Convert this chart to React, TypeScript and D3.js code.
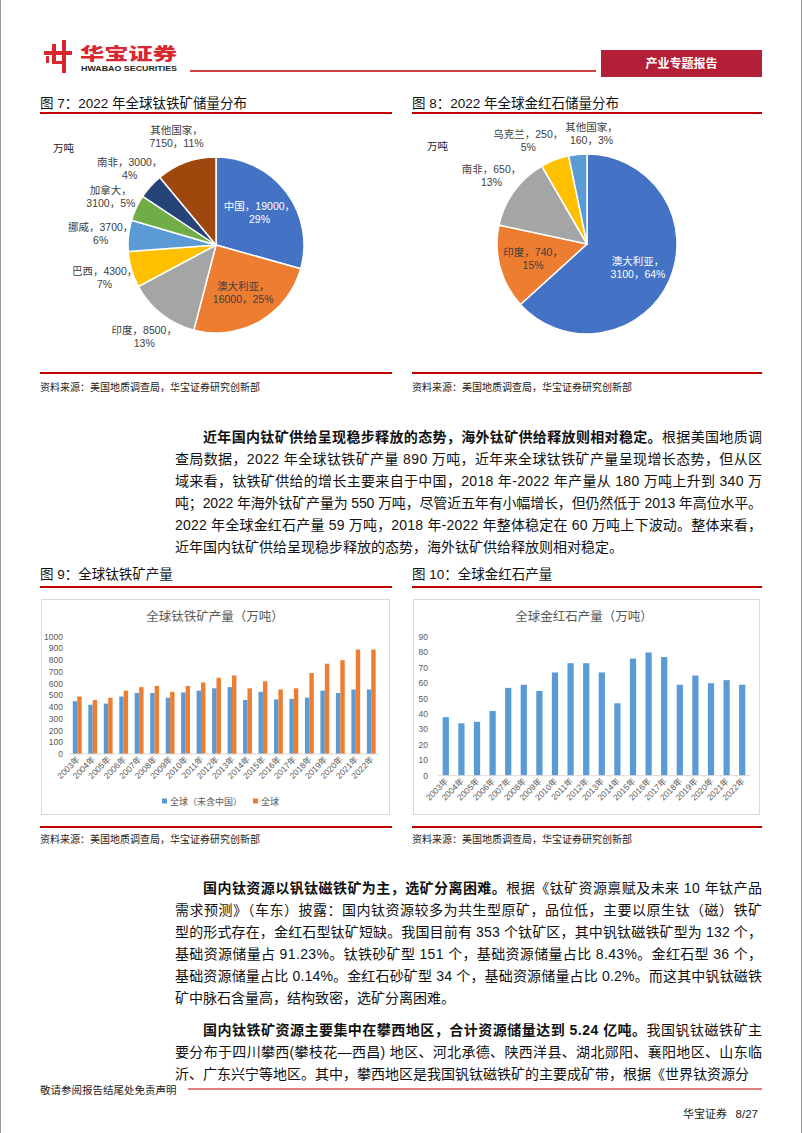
import React from "react";
import * as d3 from "d3";

// ---------- DATA ----------
const ilmeniteCountries = ["中国", "澳大利亚", "印度", "巴西", "挪威", "加拿大", "南非", "其他国家"];
const ilmeniteReserves = [19000, 16000, 8500, 4300, 3700, 3100, 3000, 7150];
const ilmenitePct = [29, 25, 13, 7, 6, 5, 4, 11];
const ilmeniteWrapAfterName = [false, true, false, false, false, true, false, true];
const ilmeniteColors = ["#4472C4", "#ED7D31", "#A5A5A5", "#FFC000", "#5B9BD5", "#70AD47", "#264478", "#9E480E"];

const rutileCountries = ["澳大利亚", "印度", "南非", "乌克兰", "其他国家"];
const rutileReserves = [3100, 740, 650, 250, 160];
const rutilePct = [64, 15, 13, 5, 3];
const rutileWrapAfterName = [true, false, false, false, true];
const rutileColors = ["#4472C4", "#ED7D31", "#A5A5A5", "#FFC000", "#5B9BD5"];

const years = ["2003年", "2004年", "2005年", "2006年", "2007年", "2008年", "2009年", "2010年", "2011年", "2012年",
  "2013年", "2014年", "2015年", "2016年", "2017年", "2018年", "2019年", "2020年", "2021年", "2022年"];
const ilmeniteExChina = [450, 420, 430, 490, 520, 520, 480, 525, 540, 560, 570, 460, 530, 465, 470, 480, 540, 520, 550, 550];
const ilmeniteGlobal = [490, 460, 480, 540, 570, 580, 530, 580, 610, 650, 670, 560, 620, 550, 560, 690, 770, 800, 890, 890];
const ilmeniteSeries = ["全球（未含中国）", "全球"];
const ilmeniteSeriesColors = ["#5B9BD5", "#ED7D31"];
const ilmeniteTicks = [0, 100, 200, 300, 400, 500, 600, 700, 800, 900, 1000];

const rutileOutput = [38, 34, 35, 42, 57, 59, 55, 67, 73, 73, 67, 47, 76, 80, 77, 59, 65, 60, 62, 59];
const rutileTicks = [0, 10, 20, 30, 40, 50, 60, 70, 80, 90];

const para1 = [
  { b: "近年国内钛矿供给呈现稳步释放的态势，海外钛矿供给释放则相对稳定。", t: "根据美国地质调" },
  { b: "", t: "查局数据，2022 年全球钛铁矿产量 890 万吨，近年来全球钛铁矿产量呈现增长态势，但从区" },
  { b: "", t: "域来看，钛铁矿供给的增长主要来自于中国，2018 年-2022 年产量从 180 万吨上升到 340 万" },
  { b: "", t: "吨；2022 年海外钛矿产量为 550 万吨，尽管近五年有小幅增长，但仍然低于 2013 年高位水平。" },
  { b: "", t: "2022 年全球金红石产量 59 万吨，2018 年-2022 年整体稳定在 60 万吨上下波动。整体来看，" },
  { b: "", t: "近年国内钛矿供给呈现稳步释放的态势，海外钛矿供给释放则相对稳定。" },
];
const para2 = [
  { b: "国内钛资源以钒钛磁铁矿为主，选矿分离困难。", t: "根据《钛矿资源禀赋及未来 10 年钛产品" },
  { b: "", t: "需求预测》（车东）披露：国内钛资源较多为共生型原矿，品位低，主要以原生钛（磁）铁矿" },
  { b: "", t: "型的形式存在，金红石型钛矿短缺。我国目前有 353 个钛矿区，其中钒钛磁铁矿型为 132 个，" },
  { b: "", t: "基础资源储量占 91.23%。钛铁砂矿型 151 个，基础资源储量占比 8.43%。金红石型 36 个，" },
  { b: "", t: "基础资源储量占比 0.14%。金红石砂矿型 34 个，基础资源储量占比 0.2%。而这其中钒钛磁铁" },
  { b: "", t: "矿中脉石含量高，结构致密，选矿分离困难。" },
];
const para3 = [
  { b: "国内钛铁矿资源主要集中在攀西地区，合计资源储量达到 5.24 亿吨。", t: "我国钒钛磁铁矿主" },
  { b: "", t: "要分布于四川攀西(攀枝花—西昌) 地区、河北承德、陕西洋县、湖北郧阳、襄阳地区、山东临" },
  { b: "", t: "沂、广东兴宁等地区。其中，攀西地区是我国钒钛磁铁矿的主要成矿带，根据《世界钛资源分" },
];

const FONT = "'Liberation Sans Narrow', 'Liberation Sans', 'Noto Sans CJK SC', sans-serif";
const RED = "#c00000";
const SOURCE = "资料来源：美国地质调查局，华宝证券研究创新部";

function textWidth(s: string, fs: number) {
  let w = 0;
  for (const ch of s) w += /[\u0000-\u00ff]/.test(ch) ? 0.56 : 1;
  return w * fs;
}

// ---------- COMPONENTS ----------
function Pie(props: {
  cx: number; cy: number; r: number; names: string[]; values: number[]; pcts: number[];
  wraps: boolean[]; colors: string[];
}) {
  const { cx, cy, r, names, values, pcts, wraps, colors } = props;
  const FS = 10.5;
  const arcs = d3.pie<number>().sort(null).value((d) => d)(values);
  const arc = d3.arc<d3.PieArcDatum<number>>().innerRadius(0).outerRadius(r);
  const labels = arcs.map((a, i) => {
    const mid = (a.startAngle + a.endAngle) / 2;
    const inside = pcts[i] >= 14;
    const lr = inside ? r * 0.62 : r + 28;
    const l1 = wraps[i] ? `${names[i]}，` : `${names[i]}，${values[i]}，`;
    const l2 = wraps[i] ? `${values[i]}，${pcts[i]}%` : `${pcts[i]}%`;
    return {
      x: Math.sin(mid) * lr, y: -Math.cos(mid) * lr, inside, l1, l2,
      w: Math.max(textWidth(l1, FS), textWidth(l2, FS)),
      fill: inside && d3.lab(colors[i]).l < 55 ? "#fff" : "#404040",
    };
  });
  // simple collision relaxation for outside labels
  for (let it = 0; it < 30; it++) {
    for (let i = 0; i < labels.length; i++) {
      for (let j = i + 1; j < labels.length; j++) {
        const a = labels[i], b = labels[j];
        if (a.inside || b.inside) continue;
        const need = (a.w + b.w) / 2 + 2;
        const dx = b.x - a.x, dy = b.y - a.y;
        if (Math.abs(dx) < need && Math.abs(dy) < 24) {
          const push = (need - Math.abs(dx)) / 2;
          const s = dx >= 0 ? 1 : -1;
          a.x -= push * s; b.x += push * s;
          a.y += 3; b.y += 3;
        }
      }
    }
  }
  return (
    <g transform={`translate(${cx},${cy})`}>
      {arcs.map((a, i) => (
        <path key={i} d={arc(a) || ""} fill={colors[i]} stroke="#fff" strokeWidth={1.5} />
      ))}
      {labels.map((lb, i) => (
        <text key={"l" + i} textAnchor="middle" fontSize={FS} fill={lb.fill}>
          <tspan x={lb.x} y={lb.y - 2}>{lb.l1}</tspan>
          <tspan x={lb.x} y={lb.y + 11}>{lb.l2}</tspan>
        </text>
      ))}
    </g>
  );
}

function IlmeniteBars() {
  const x0 = d3.scaleBand<string>().domain(years).range([69.5, 379]).padding(0);
  const x1 = d3.scaleBand<string>().domain(ilmeniteSeries).range([0, x0.bandwidth()]).paddingInner(0).paddingOuter(0.75);
  const y = d3.scaleLinear().domain([0, 1000]).range([754, 636.7]);
  const seriesVals = [ilmeniteExChina, ilmeniteGlobal];
  return (
    <g>
      <rect x={41.5} y={599.5} width={348} height={215} fill="#fff" stroke="#d9d9d9" />
      <text x={215} y={621} textAnchor="middle" fontSize={12.5} fill="#595959">全球钛铁矿产量（万吨）</text>
      {ilmeniteTicks.map((t) => (
        <text key={t} x={63} y={y(t) + 3} textAnchor="end" fontSize={8.5} fill="#595959">{t}</text>
      ))}
      {years.map((yr, i) => (
        <g key={yr}>
          {ilmeniteSeries.map((s, k) => (
            <rect key={s} x={(x0(yr) || 0) + (x1(s) || 0)} y={y(seriesVals[k][i])}
              width={x1.bandwidth()} height={y(0) - y(seriesVals[k][i])} fill={ilmeniteSeriesColors[k]} />
          ))}
          <text transform={`translate(${(x0(yr) || 0) + x0.bandwidth() / 2 + 3},${y(0) + 6}) rotate(-45)`}
            textAnchor="end" fontSize={8.5} fill="#595959">{yr}</text>
        </g>
      ))}
      <line x1={69.5} x2={379} y1={y(0)} y2={y(0)} stroke="#d9d9d9" />
      {ilmeniteSeries.map((s, k) => {
        const lx = k === 0 ? 162 : 253;
        return (
          <g key={s}>
            <rect x={lx} y={798.5} width={5} height={5} fill={ilmeniteSeriesColors[k]} />
            <text x={lx + 8} y={804.5} fontSize={9} fill="#595959">{s}</text>
          </g>
        );
      })}
    </g>
  );
}

function RutileBars() {
  const x = d3.scaleBand<string>().domain(years).range([438, 750]).paddingInner(0.6).paddingOuter(0.3);
  const y = d3.scaleLinear().domain([0, 90]).range([775.7, 637]);
  return (
    <g>
      <rect x={413.5} y={599.5} width={346} height={215} fill="#fff" stroke="#d9d9d9" />
      <text x={584} y={621} textAnchor="middle" fontSize={12.5} fill="#595959">全球金红石产量（万吨）</text>
      {rutileTicks.map((t) => (
        <text key={t} x={428} y={y(t) + 3} textAnchor="end" fontSize={8.5} fill="#595959">{t}</text>
      ))}
      {years.map((yr, i) => (
        <g key={yr}>
          <rect x={x(yr) || 0} y={y(rutileOutput[i])} width={x.bandwidth()} height={y(0) - y(rutileOutput[i])} fill="#5B9BD5" />
          <text transform={`translate(${(x(yr) || 0) + x.bandwidth() / 2 + 3},${y(0) + 6}) rotate(-45)`}
            textAnchor="end" fontSize={8.5} fill="#595959">{yr}</text>
        </g>
      ))}
      <line x1={438} x2={750} y1={y(0)} y2={y(0)} stroke="#d9d9d9" />
    </g>
  );
}

function Paragraph(props: { lines: { b: string; t: string }[]; top: number }) {
  const { lines, top } = props;
  return (
    <g>
      {lines.map((ln, i) => {
        const x = i === 0 ? 203 : 175;
        const last = i === lines.length - 1;
        const extra = last ? {} : { textLength: 762 - x, lengthAdjust: "spacing" };
        return (
          <text key={i} x={x} y={top + i * 22} fontSize={14} fill="#111" {...extra}>
            {ln.b ? <tspan fontWeight="bold">{ln.b}</tspan> : null}
            <tspan>{ln.t}</tspan>
          </text>
        );
      })}
    </g>
  );
}

export default function App() {
  return (
    <svg width={802} height={1133} style={{ position: "absolute", left: 0, top: 0, background: "#fff" }} fontFamily={FONT}>
      <rect x={0} y={0} width={802} height={1133} fill="#fff" />
      <line x1={0.5} x2={0.5} y1={0} y2={1133} stroke="#999" />
      <line x1={801.5} x2={801.5} y1={0} y2={1133} stroke="#999" />

      {/* Header logo */}
      <g fill="#d7282f">
        <rect x={44} y={51} width={28} height={4} />
        <rect x={52} y={44} width={4} height={20} />
        <rect x={62} y={40} width={4} height={33} />
        <rect x={46} y={56} width={3} height={7} />
        <rect x={56} y={61} width={10} height={3} />
      </g>
      <text x={80} y={60} fontSize={17} fontWeight={900} fill="#d7282f" textLength={97} lengthAdjust="spacingAndGlyphs"
        fontFamily="'Noto Sans CJK SC', sans-serif">华宝证券</text>
      <text x={81} y={71} fontSize={7.5} fontWeight="bold" fill="#231f20" textLength={96} lengthAdjust="spacingAndGlyphs"
        fontFamily="'Liberation Sans', sans-serif">HWABAO SECURITIES</text>
      <line x1={190} x2={596} y1={71} y2={71} stroke={RED} strokeWidth={1.5} />
      <rect x={601} y={50} width={161} height={27} fill="#b31f36" />
      <text x={681.5} y={68} textAnchor="middle" fontSize={12} fontWeight="bold" fill="#fff">产业专题报告</text>

      {/* Figure 7 & 8 captions */}
      <text x={40} y={108} fontSize={13.5} fill="#111">图 7：2022 年全球钛铁矿储量分布</text>
      <text x={412} y={108} fontSize={13.5} fill="#111">图 8：2022 年全球金红石储量分布</text>
      <line x1={40} x2={392} y1={113} y2={113} stroke={RED} strokeWidth={2} />
      <line x1={412} x2={762} y1={113} y2={113} stroke={RED} strokeWidth={2} />

      <text x={53} y={152} fontSize={10.5} fill="#222">万吨</text>
      <Pie cx={216} cy={245} r={88} names={ilmeniteCountries} values={ilmeniteReserves} pcts={ilmenitePct}
        wraps={ilmeniteWrapAfterName} colors={ilmeniteColors} />
      <text x={427} y={150} fontSize={10.5} fill="#222">万吨</text>
      <Pie cx={587} cy={244} r={90} names={rutileCountries} values={rutileReserves} pcts={rutilePct}
        wraps={rutileWrapAfterName} colors={rutileColors} />

      <line x1={40} x2={392} y1={373} y2={373} stroke={RED} strokeWidth={2} />
      <line x1={412} x2={762} y1={373} y2={373} stroke={RED} strokeWidth={2} />
      <text x={40} y={391} fontSize={10} fill="#222">{SOURCE}</text>
      <text x={412} y={391} fontSize={10} fill="#222">{SOURCE}</text>

      <Paragraph lines={para1} top={442} />

      {/* Figure 9 & 10 */}
      <text x={40} y={579} fontSize={13.5} fill="#111">图 9：全球钛铁矿产量</text>
      <text x={412} y={579} fontSize={13.5} fill="#111">图 10：全球金红石产量</text>
      <line x1={40} x2={392} y1={587} y2={587} stroke={RED} strokeWidth={2} />
      <line x1={412} x2={762} y1={587} y2={587} stroke={RED} strokeWidth={2} />

      <IlmeniteBars />
      <RutileBars />

      <line x1={40} x2={392} y1={827} y2={827} stroke={RED} strokeWidth={2} />
      <line x1={412} x2={762} y1={827} y2={827} stroke={RED} strokeWidth={2} />
      <text x={40} y={843} fontSize={10} fill="#222">{SOURCE}</text>
      <text x={412} y={843} fontSize={10} fill="#222">{SOURCE}</text>

      <Paragraph lines={para2} top={893} />
      <Paragraph lines={para3} top={1035} />

      {/* Footer */}
      <text x={40} y={1094} fontSize={10.5} fill="#222">敬请参阅报告结尾处免责声明</text>
      <line x1={188} x2={762} y1={1089} y2={1089} stroke={RED} strokeWidth={1} />
      <text x={683} y={1118} fontSize={11} fill="#222">华宝证券</text>
      <text x={758} y={1118} fontSize={11.5} textAnchor="end" fill="#222">8/27</text>
    </svg>
  );
}
